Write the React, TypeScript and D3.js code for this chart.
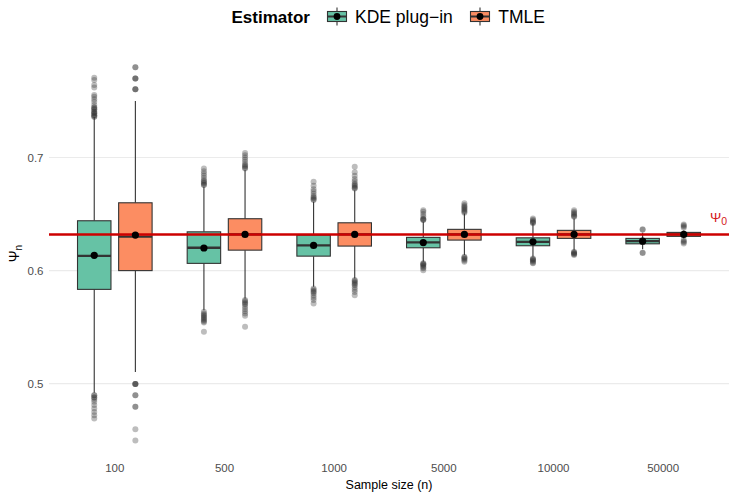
import React from "react";
import * as d3 from "d3";

// ---- Data ----
const sampleSizes = ["100", "500", "1000", "5000", "10000", "50000"];
const estimators = ["KDE plug\u2212in", "TMLE"];
const psi0 = 0.632;
const yTicks = [0.5, 0.6, 0.7];

const kdeLower = [0.4919, 0.565, 0.5857, 0.6078, 0.6122, 0.6188];
const kdeQ1 = [0.5834, 0.6064, 0.6128, 0.6202, 0.622, 0.6237];
const kdeMedian = [0.6131, 0.6202, 0.6223, 0.625, 0.6255, 0.6261];
const kdeQ3 = [0.6441, 0.6343, 0.6314, 0.6294, 0.629, 0.6285];
const kdeUpper = [0.736, 0.6742, 0.661, 0.6432, 0.6418, 0.6335];
const kdeMean = [0.6135, 0.62, 0.6223, 0.6248, 0.6255, 0.626];
const kdeOutliers = [
  [0.7706, 0.7686, 0.7642, 0.7621, 0.7553, 0.7538, 0.7515, 0.7494, 0.7465, 0.7444, 0.7444, 0.7427, 0.7427, 0.7406, 0.7406, 0.7392, 0.7392, 0.7375, 0.7375, 0.7362, 0.7362,
   0.4898, 0.4898, 0.4878, 0.4878, 0.486, 0.4839, 0.481, 0.478, 0.475, 0.4721, 0.4692],
  [0.6757, 0.676, 0.677, 0.678, 0.679, 0.68, 0.682, 0.684, 0.686, 0.688, 0.6904,
   0.5635, 0.562, 0.561, 0.56, 0.559, 0.558, 0.557, 0.556, 0.555, 0.554, 0.5458],
  [0.6624, 0.663, 0.664, 0.665, 0.666, 0.668, 0.67, 0.672, 0.675, 0.6786,
   0.5842, 0.583, 0.582, 0.581, 0.58, 0.578, 0.576, 0.574, 0.571],
  [0.6447, 0.645, 0.6455, 0.646, 0.648, 0.65, 0.652, 0.6535,
   0.6064, 0.606, 0.6055, 0.605, 0.604, 0.603, 0.602, 0.6004],
  [0.6418, 0.6425, 0.643, 0.644, 0.645, 0.6462,
   0.6108, 0.61, 0.6095, 0.609, 0.608, 0.607, 0.6064],
  [0.6365, 0.6362, 0.6158, 0.6155],
];

const tmleLower = [0.5102, 0.5754, 0.5931, 0.6137, 0.6181, 0.6285];
const tmleQ1 = [0.6, 0.6181, 0.6217, 0.627, 0.6285, 0.6303];
const tmleMedian = [0.630, 0.632, 0.632, 0.632, 0.632, 0.632];
const tmleQ3 = [0.66, 0.6459, 0.6423, 0.6365, 0.6356, 0.6338];
const tmleUpper = [0.75, 0.689, 0.6712, 0.6506, 0.6462, 0.6355];
const tmleMean = [0.6314, 0.632, 0.632, 0.632, 0.632, 0.632];
const tmleOutliers = [
  [0.7604, 0.7604, 0.7604, 0.77, 0.77, 0.77, 0.78, 0.78,
   0.4996, 0.4996, 0.4996, 0.4996, 0.4898, 0.4898, 0.4795, 0.4795, 0.4597, 0.4497],
  [0.6904, 0.691, 0.692, 0.693, 0.694, 0.696, 0.698, 0.7, 0.702, 0.704,
   0.5739, 0.573, 0.572, 0.571, 0.57, 0.568, 0.566, 0.564, 0.562, 0.56, 0.5503],
  [0.6727, 0.673, 0.674, 0.675, 0.676, 0.677, 0.679, 0.681, 0.684, 0.687, 0.6919,
   0.5916, 0.591, 0.59, 0.589, 0.588, 0.587, 0.585, 0.583, 0.581, 0.5783],
  [0.6512, 0.652, 0.653, 0.654, 0.655, 0.656, 0.657, 0.658, 0.6595,
   0.6122, 0.6115, 0.611, 0.61, 0.609, 0.6078],
  [0.6476, 0.648, 0.649, 0.65, 0.651, 0.652, 0.6535,
   0.6166, 0.616, 0.6155, 0.615, 0.6145, 0.6137],
  [0.6409, 0.64, 0.639, 0.6379, 0.627, 0.626, 0.625, 0.624],
];

const fillColors = ["#66C2A5", "#FC8D62"];

// ---- Layout ----
const W = 729;
const H = 493;
const panel = { left: 49, right: 729, top: 48.5, bottom: 458.8 };
const FONT = "'Liberation Sans', Arial, Helvetica, sans-serif";

export default function App() {
  const x = d3
    .scalePoint<string>()
    .domain(sampleSizes)
    .range([panel.left, panel.right])
    .padding(0.6);
  const step = x.step();
  const y = d3
    .scaleLinear()
    .domain([0.4335, 0.7965])
    .range([panel.bottom, panel.top]);

  const dodge = 0.1875 * step;
  const boxW = 0.305 * step;

  const series = [
    { lower: kdeLower, q1: kdeQ1, med: kdeMedian, q3: kdeQ3, upper: kdeUpper, mean: kdeMean, out: kdeOutliers },
    { lower: tmleLower, q1: tmleQ1, med: tmleMedian, q3: tmleQ3, upper: tmleUpper, mean: tmleMean, out: tmleOutliers },
  ];

  const stroke = "#333333";

  return (
    <svg
      width={W}
      height={H}
      style={{ position: "absolute", left: 0, top: 0, background: "#fff" }}
      fontFamily={FONT}
    >
      {/* grid */}
      {yTicks.map((t) => (
        <line key={t} x1={panel.left} x2={panel.right} y1={y(t)} y2={y(t)} stroke="#EBEBEB" strokeWidth={1.1} />
      ))}
      {/* y tick labels */}
      {yTicks.map((t) => (
        <text key={"yl" + t} x={43.5} y={y(t)} dy="0.35em" textAnchor="end" fontSize={11.5} fill="#4D4D4D">
          {d3.format(".1f")(t)}
        </text>
      ))}
      {/* x tick labels */}
      {sampleSizes.map((s) => (
        <text key={"xl" + s} x={x(s)} y={472} textAnchor="middle" fontSize={11.5} fill="#4D4D4D">
          {s}
        </text>
      ))}
      {/* axis titles */}
      <text x={(panel.left + panel.right) / 2} y={488.5} textAnchor="middle" fontSize={12.5} fill="#000">
        Sample size (n)
      </text>
      <text transform={`translate(19, ${(panel.top + panel.bottom) / 2}) rotate(-90)`} textAnchor="middle" fontSize={14} fill="#000">
        {"\u03A8"}
        <tspan dy={3} fontSize={10}>n</tspan>
      </text>

      {/* boxes + outliers */}
      {series.map((s, si) =>
        sampleSizes.map((cat, ci) => {
          const cx = (x(cat) as number) + (si === 0 ? -dodge : dodge);
          return (
            <g key={`b${si}-${ci}`}>
              {s.out[ci].map((v, k) => (
                <circle key={k} cx={cx} cy={y(v)} r={3} fill="#333333" fillOpacity={0.32} />
              ))}
              <line x1={cx} x2={cx} y1={y(s.upper[ci])} y2={y(s.q3[ci])} stroke={stroke} strokeWidth={1.1} />
              <line x1={cx} x2={cx} y1={y(s.q1[ci])} y2={y(s.lower[ci])} stroke={stroke} strokeWidth={1.1} />
              <rect
                x={cx - boxW / 2}
                y={y(s.q3[ci])}
                width={boxW}
                height={Math.max(0.5, y(s.q1[ci]) - y(s.q3[ci]))}
                fill={fillColors[si]}
                stroke={stroke}
                strokeWidth={1.1}
              />
              <line x1={cx - boxW / 2} x2={cx + boxW / 2} y1={y(s.med[ci])} y2={y(s.med[ci])} stroke={stroke} strokeWidth={2.3} />
            </g>
          );
        })
      )}

      {/* reference line */}
      <line x1={panel.left} x2={panel.right} y1={y(psi0)} y2={y(psi0)} stroke="#CD0000" strokeWidth={2.5} />
      <text x={727} y={y(psi0) - 12} textAnchor="end" fontSize={13.5} fill="#D41A1A">
        {"\u03A8"}
        <tspan dy={3} fontSize={10.5}>0</tspan>
      </text>

      {/* means */}
      {series.map((s, si) =>
        sampleSizes.map((cat, ci) => {
          const cx = (x(cat) as number) + (si === 0 ? -dodge : dodge);
          return <circle key={`m${si}-${ci}`} cx={cx} cy={y(s.mean[ci])} r={3.6} fill="#000" />;
        })
      )}

      {/* legend */}
      <g>
        <text x={231.5} y={23} fontSize={17} fontWeight="bold" fill="#000">Estimator</text>
        {estimators.map((e, i) => {
          const kx = i === 0 ? 327.5 : 470.5;
          const tx = i === 0 ? 355 : 498.3;
          const kw = 19;
          const cx = kx + kw / 2;
          return (
            <g key={e}>
              <line x1={cx} x2={cx} y1={7.5} y2={25.5} stroke={stroke} strokeWidth={1.1} />
              <rect x={kx} y={11.5} width={kw} height={10} fill={fillColors[i]} stroke={stroke} strokeWidth={1.1} />
              <line x1={kx} x2={kx + kw} y1={16.5} y2={16.5} stroke={stroke} strokeWidth={2} />
              <circle cx={cx} cy={16.5} r={3.4} fill="#000" />
              <text x={tx} y={23} fontSize={17.5} fill="#000">{e}</text>
            </g>
          );
        })}
      </g>
    </svg>
  );
}
